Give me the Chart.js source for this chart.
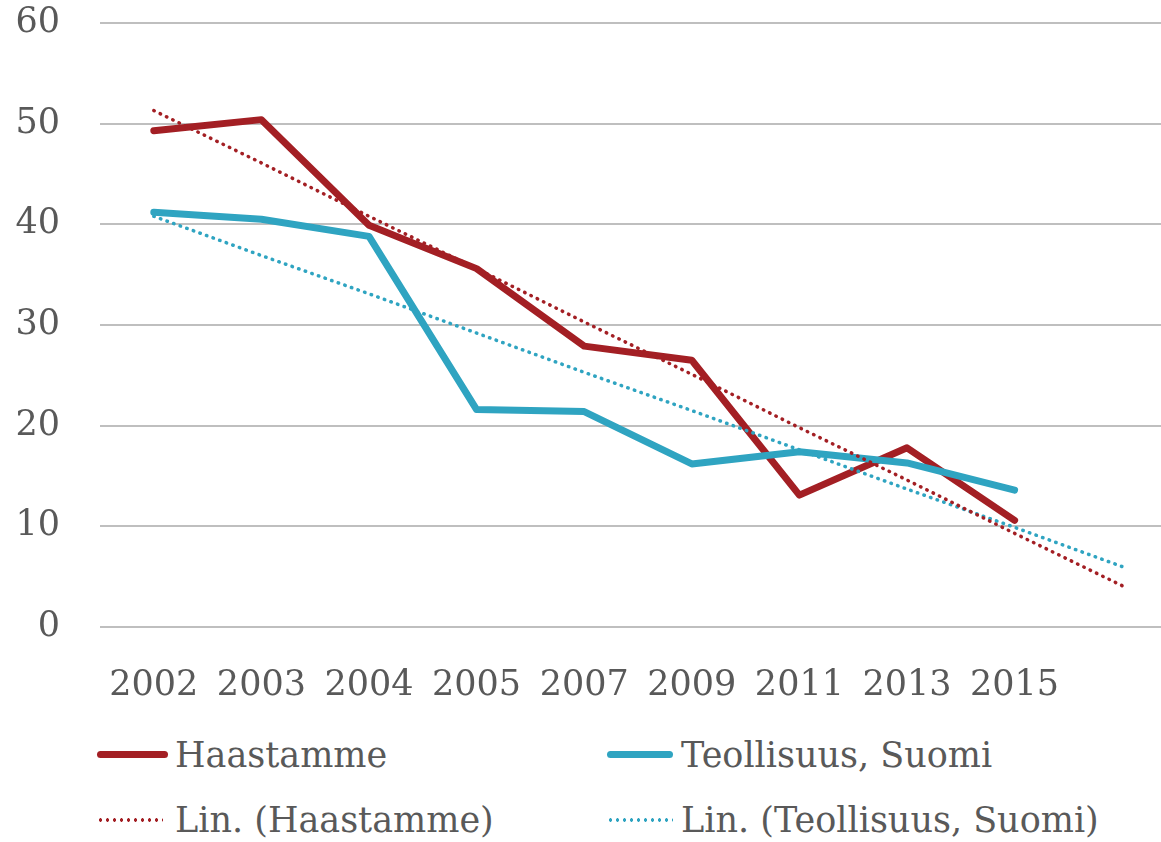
<!DOCTYPE html>
<html>
<head>
<meta charset="utf-8">
<script src="https://cdn.jsdelivr.net/npm/chart.js@4"></script>
<style>
  html, body { margin: 0; padding: 0; background: #fff; overflow: hidden; }
  #wrap { position: relative; width: 1161px; height: 842px; overflow: hidden; }
  #grafico { position: absolute; left: 0; top: -38px; }
  .lg { position: absolute; font-family: "DejaVu Serif", serif; font-size: 35px; line-height: 40px; color: #595959; white-space: nowrap; }
  .sw { position: absolute; height: 7px; border-radius: 4px; }
  .dt { position: absolute; height: 4px; background-size: 7px 4px; background-repeat: repeat-x; }
</style>
</head>
<body>
<div id="wrap">
  <canvas id="grafico" width="1176" height="748"></canvas>
  <div class="sw" style="left:97px; top:751px; width:71px; background:#A31F24;"></div>
  <div class="lg" style="left:175px; top:735px;">Haastamme</div>
  <div class="sw" style="left:607px; top:751px; width:66px; background:#2FA4C1;"></div>
  <div class="lg" style="left:681px; top:735px;">Teollisuus, Suomi</div>
  <div class="dt" style="left:97px; top:818px; width:66px; background-image: radial-gradient(circle, #A31F24 1.6px, transparent 1.9px);"></div>
  <div class="lg" style="left:175px; top:800px;">Lin. (Haastamme)</div>
  <div class="dt" style="left:607px; top:818px; width:66px; background-image: radial-gradient(circle, #2FA4C1 1.6px, transparent 1.9px);"></div>
  <div class="lg" style="left:681px; top:800px;">Lin. (Teollisuus, Suomi)</div>
</div>
<script>
const vuodet = ['2002', '2003', '2004', '2005', '2007', '2009', '2011', '2013', '2015', ''];
const haastamme = [49.3, 50.4, 39.9, 35.6, 27.9, 26.5, 13.1, 17.8, 10.6, null];
const teollisuus = [41.2, 40.5, 38.8, 21.6, 21.4, 16.2, 17.4, 16.3, 13.6, null];
const linHaastamme = [51.3, 46.1, 40.8, 35.6, 30.3, 25.1, 19.8, 14.6, 9.3, 4.1];
const linTeollisuus = [40.8, 36.9, 33.1, 29.2, 25.3, 21.5, 17.6, 13.7, 9.9, 6.0];
const yTicks = [0, 10, 20, 30, 40, 50, 60];

const punainen = '#A31F24';
const sininen = '#2FA4C1';
const fontti = { family: 'DejaVu Serif', size: 35 };

const ctx = document.getElementById('grafico').getContext('2d');
let grafico = new Chart(ctx, {
    type: 'line',
    data: {
        labels: vuodet,
        datasets: [
            {
                label: 'Lin. (Haastamme)',
                data: linHaastamme,
                borderColor: punainen,
                borderWidth: 3.5,
                borderDash: [0.5, 6.5],
                borderCapStyle: 'round',
                pointRadius: 0,
                fill: false
            },
            {
                label: 'Lin. (Teollisuus, Suomi)',
                data: linTeollisuus,
                borderColor: sininen,
                borderWidth: 3.5,
                borderDash: [0.5, 6.5],
                borderCapStyle: 'round',
                pointRadius: 0,
                fill: false
            },
            {
                label: 'Teollisuus, Suomi',
                data: teollisuus,
                borderColor: sininen,
                borderWidth: 7,
                borderCapStyle: 'round',
                borderJoinStyle: 'round',
                pointRadius: 0,
                fill: false
            },
            {
                label: 'Haastamme',
                data: haastamme,
                borderColor: punainen,
                borderWidth: 7,
                borderCapStyle: 'round',
                borderJoinStyle: 'round',
                pointRadius: 0,
                fill: false
            }
        ]
    },
    options: {
        responsive: false,
        animation: false,
        devicePixelRatio: 1,
        layout: { padding: 0 },
        plugins: {
            legend: { display: false },
            tooltip: { enabled: false }
        },
        scales: {
            x: {
                offset: true,
                grid: { display: false, drawTicks: false, offset: true },
                border: { display: false },
                ticks: { color: '#595959', font: fontti, padding: 38, maxRotation: 0, autoSkip: false },
                afterFit: function(scale) { scale.height = 83; }
            },
            y: {
                min: 0,
                max: 60,
                afterBuildTicks: function(scale) { scale.ticks = yTicks.map(v => ({ value: v })); },
                grid: { color: '#BFBFBF', lineWidth: 2, drawTicks: false },
                border: { display: false },
                ticks: { color: '#595959', font: fontti, padding: 40 },
                afterFit: function(scale) { scale.width = 100; }
            }
        }
    }
});
</script>
</body>
</html>
